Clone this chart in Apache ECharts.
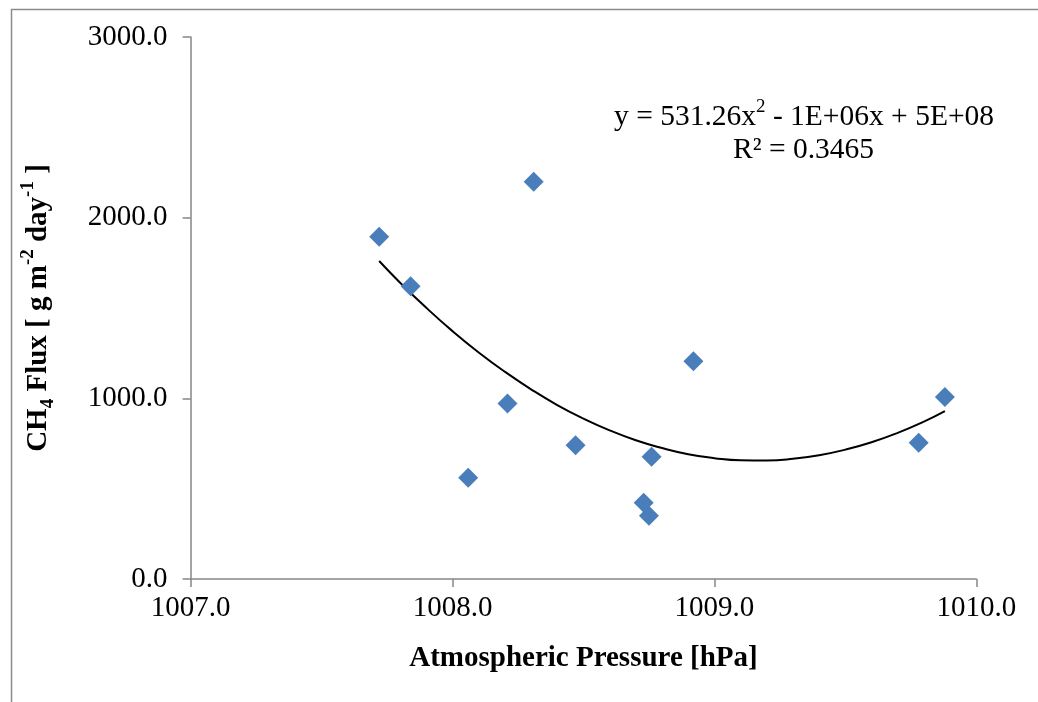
<!DOCTYPE html>
<html>
<head>
<meta charset="utf-8">
<script src="https://cdn.jsdelivr.net/npm/echarts@6/dist/echarts.min.js"></script>
<style>
html,body{margin:0;padding:0;background:#fff;}
#chart{width:1038px;height:702px;}
</style>
</head>
<body>
<div id="chart"></div>
<script>
// Observed points: atmospheric pressure (hPa) vs CH4 flux
const pressure = [1007.72, 1007.84, 1008.31, 1008.06, 1008.21, 1008.47, 1008.92, 1008.76, 1008.73, 1008.75, 1009.78, 1009.88];
const flux     = [1894, 1621, 2199, 561, 972, 740, 1205, 677, 422, 350, 754, 1007];

// Polynomial trendline
const trendX = [1007.72, 1007.8, 1007.9, 1008.0, 1008.1, 1008.2, 1008.3, 1008.4, 1008.5, 1008.6, 1008.7, 1008.8, 1008.9, 1009.0, 1009.1, 1009.2, 1009.3, 1009.4, 1009.5, 1009.6, 1009.7, 1009.8, 1009.88];
const trendY = [1760, 1640, 1501, 1372, 1254, 1147, 1050, 963, 888, 823, 768, 725, 691, 669, 657, 656, 665, 685, 716, 757, 809, 871, 929];

const xTicks = [1007.0, 1008.0, 1009.0, 1010.0];
const yTicks = [0, 1000, 2000, 3000];

const eqLine1 = 'y = 531.26x';
const eqLine1b = ' - 1E+06x + 5E+08';
const eqLine2 = 'R² = 0.3465';

const chart = echarts.init(document.getElementById('chart'));
const serif = '"Liberation Serif", "Times New Roman", serif';
const axisGray = '#868686';

chart.setOption({
  animation: false,
  backgroundColor: '#fff',
  grid: {left: 190.6, right: 61.7, top: 37, bottom: 123},
  xAxis: {
    type: 'value',
    min: xTicks[0], max: xTicks[xTicks.length - 1], interval: 1,
    axisLine: {lineStyle: {color: axisGray, width: 1.5}},
    axisTick: {show: true, length: 8, lineStyle: {color: axisGray, width: 1.5}},
    splitLine: {show: false},
    axisLabel: {color: '#000', fontFamily: serif, fontSize: 29, margin: 15,
      formatter: v => v.toFixed(1)},
    name: 'Atmospheric Pressure [hPa]',
    nameLocation: 'middle', nameGap: 65,
    nameTextStyle: {color: '#000', fontFamily: serif, fontSize: 29, fontWeight: 'bold'}
  },
  yAxis: {
    type: 'value',
    min: yTicks[0], max: yTicks[yTicks.length - 1], interval: 1000,
    axisLine: {show: true, lineStyle: {color: axisGray, width: 1.5}},
    axisTick: {show: true, length: 8, lineStyle: {color: axisGray, width: 1.5}},
    splitLine: {show: false},
    axisLabel: {color: '#000', fontFamily: serif, fontSize: 29, margin: 23,
      formatter: v => v.toFixed(1)},
    name: '{b|CH}{sub|4}{b| Flux [ g m}{sup|-2}{b| day}{sup|-1}{b| ]}',
    nameLocation: 'middle', nameGap: 138,
    nameTextStyle: {
      color: '#000', fontFamily: serif, fontSize: 29, fontWeight: 'bold',
      rich: {
        b: {fontFamily: serif, fontSize: 29, fontWeight: 'bold', color: '#000', verticalAlign: 'bottom', lineHeight: 34},
        sub: {fontFamily: serif, fontSize: 19, fontWeight: 'bold', color: '#000', verticalAlign: 'bottom', padding: [0, 0, -5, 0], lineHeight: 34},
        sup: {fontFamily: serif, fontSize: 19, fontWeight: 'bold', color: '#000', verticalAlign: 'top', lineHeight: 34}
      }
    }
  },
  graphic: [
    {type: 'rect', left: 9, top: 7, shape: {width: 1100, height: 800},
     style: {fill: 'none', stroke: '#8c8c8c', lineWidth: 1.5}, silent: true, z: -1},
    {type: 'text', left: 614, top: 98, z: 10,
     style: {
       text: '{t|' + eqLine1 + '}{s|2}{t|' + eqLine1b + '}',
       rich: {
         t: {fontFamily: serif, fontSize: 29.5, fill: '#000', verticalAlign: 'bottom', lineHeight: 34},
         s: {fontFamily: serif, fontSize: 19, fill: '#000', verticalAlign: 'top', lineHeight: 34}
       }
     }},
    {type: 'text', left: 733, top: 135, z: 10,
     style: {text: eqLine2, fontFamily: serif, fontSize: 29.5, fill: '#000'}}
  ],
  series: [
    {
      type: 'line',
      data: trendX.map((x, i) => [x, trendY[i]]),
      smooth: true, showSymbol: false, symbol: 'none',
      lineStyle: {color: '#000', width: 2},
      z: 2, silent: true
    },
    {
      type: 'scatter',
      data: pressure.map((x, i) => [x, flux[i]]),
      symbol: 'diamond', symbolSize: 20,
      itemStyle: {color: '#4A7EBB', opacity: 1},
      z: 3
    }
  ]
});
</script>
</body>
</html>
